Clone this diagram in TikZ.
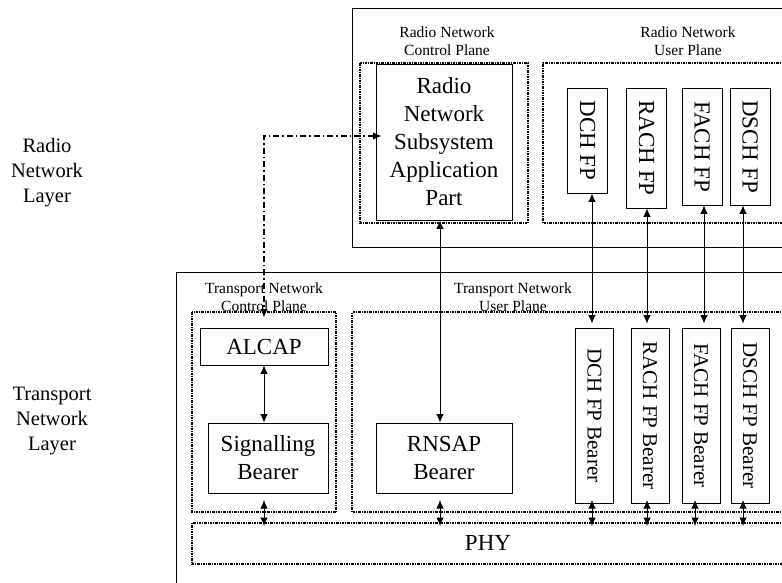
\documentclass[tikz,border=0pt]{standalone}
\usepackage{fontspec}
\setmainfont{Liberation Serif}
\usetikzlibrary{positioning}
\usetikzlibrary{arrows.meta}
\tikzset{box/.style = {draw, line width=0.9pt, inner sep=0pt, align=center,
                       font=\fontsize{23}{28}\selectfont}}
\tikzset{fpbox/.style = {box, minimum width=40pt}}
\tikzset{bearerbox/.style = {box, minimum width=38pt, minimum height=175pt,
                             font=\fontsize{21}{25}\selectfont}}
\tikzset{plane/.style = {line width=1.3pt,
                         dash pattern=on 2.5pt off 1pt on 1pt off 1pt}}
\tikzset{planelabel/.style = {align=center, font=\fontsize{15.5}{18.5}\selectfont}}
\tikzset{layerlabel/.style = {align=center, font=\fontsize{20.5}{25}\selectfont}}
\tikzset{link/.style = {line width=0.9pt,
    arrows={Latex[length=8.5pt,width=7.5pt]-Latex[length=8.5pt,width=7.5pt]}}}
\tikzset{ctrl/.style = {link, line width=1.5pt,
                        dash pattern=on 6pt off 3pt on 1.5pt off 3pt}}

\begin{document}
\begin{tikzpicture}[x=1pt, y=-1pt]
        \useasboundingbox (0,0) rectangle (782,582);
        % layer frames, both run off to the right
        \draw[line width=1pt] (784,8) -| (352,247) -- (784,247);
        \draw[line width=1pt] (784,272) -| (176,584);
        % control and user planes
        \draw[plane] (360,63) rectangle (528,223);
        \draw[plane] (784,63) -| (543,223) -- (784,223);
        \draw[plane] (192,312) rectangle (336,512);
        \draw[plane] (784,312) -| (352,512) -- (784,512);
        \draw[plane] (784,523) -| (192,564) -- (784,564);
        \node[layerlabel] (rnl) at (47,173) {Radio\\Network\\Layer};
        \node[layerlabel] (tnl) at (52,421) {Transport\\Network\\Layer};
        \node[planelabel] (rncp) at (447,41) {Radio Network\\Control Plane};
        \node[planelabel] (rnup) at (688,41) {Radio Network\\User Plane};
        \node[planelabel] (tncp) at (264,297) {Transport Network\\Control Plane};
        \node[planelabel] (tnup) at (513,297) {Transport Network\\User Plane};
        % radio network layer
        \node[box, minimum width=136pt, minimum height=156pt] (rnsap) at (444,142)
             {Radio\\Network\\Subsystem\\Application\\Part};
        \node[fpbox, minimum height=105pt] (dchfp) at (587.5,140.5) {\rotatebox{-90}{DCH FP}};
        \node[fpbox, minimum height=120pt] (rachfp) at (646.5,148) {\rotatebox{-90}{RACH FP}};
        \node[fpbox, minimum height=117pt] (fachfp) at (702,146.5) {\rotatebox{-90}{FACH FP}};
        \node[fpbox, minimum height=117pt] (dschfp) at (750,146.5) {\rotatebox{-90}{DSCH FP}};
        % transport network layer
        \node[box, minimum width=128pt, minimum height=37pt] (alcap) at (264,346.5) {ALCAP};
        \node[box, minimum width=120pt, minimum height=70pt] (sigbear) at (268,458) {Signalling\\Bearer};
        \node[box, minimum width=136pt, minimum height=70pt] (rnsapbear) at (444,458) {RNSAP\\Bearer};
        \node[bearerbox] (dchbear) at (594.5,415.5) {\rotatebox{-90}{DCH FP Bearer}};
        \node[bearerbox] (rachbear) at (650,415.5) {\rotatebox{-90}{RACH FP Bearer}};
        \node[bearerbox] (fachbear) at (701,415.5) {\rotatebox{-90}{FACH FP Bearer}};
        \node[bearerbox] (dschbear) at (750,415.5) {\rotatebox{-90}{DSCH FP Bearer}};
        \node[box, draw=none] (phy) at (488,543) {PHY};
        % lanes of the vertical links
        \coordinate (rnsapx) at (440,0);
        \coordinate (dchx) at (592,0);
        \coordinate (rachx) at (647,0);
        \coordinate (fachx) at (704,0);
        \coordinate (fachlow) at (695,0);
        \coordinate (dschx) at (743,0);
        \coordinate (lanetop) at (0,500);
        \coordinate (phyline) at (0,526);
        \coordinate (ctrly) at (0,136);
        \draw[link] (rnsap.south -| rnsapx) -- (rnsapbear.north -| rnsapx);
        \draw[link] (dchfp.south -| dchx) -- ([yshift=4pt]dchbear.north -| dchx);
        \draw[link] (rachfp.south -| rachx) -- ([yshift=4pt]rachbear.north -| rachx);
        \draw[link] (fachfp.south -| fachx) -- ([yshift=4pt]fachbear.north -| fachx);
        \draw[link] (dschfp.south -| dschx) -- ([yshift=4pt]dschbear.north -| dschx);
        \draw[link] (alcap.south) -- (alcap.south |- sigbear.north);
        % short links down to PHY
        \draw[link] (alcap.south |- lanetop) -- (alcap.south |- phyline);
        \draw[link] (lanetop -| rnsapx) -- (phyline -| rnsapx);
        \draw[link] (lanetop -| dchx) -- (phyline -| dchx);
        \draw[link] (lanetop -| rachx) -- (phyline -| rachx);
        \draw[link] (lanetop -| fachlow) -- (phyline -| fachlow);
        \draw[link] (lanetop -| dschx) -- (phyline -| dschx);
        \draw[ctrl, shorten <=-6pt] (rnsap.west |- ctrly) -| ([yshift=10pt]alcap.north);
\end{tikzpicture}
\end{document}
